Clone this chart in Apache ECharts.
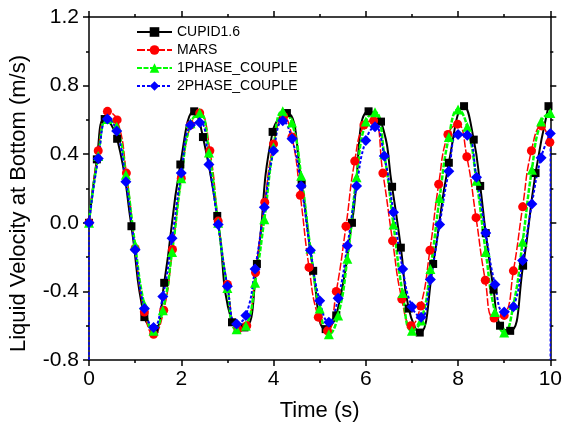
<!DOCTYPE html>
<html>
<head>
<meta charset="utf-8">
<script src="https://cdn.jsdelivr.net/npm/echarts@6/dist/echarts.min.js"></script>
<style>
html,body{margin:0;padding:0;background:#fff;}
#c{width:565px;height:428px;}
</style>
</head>
<body>
<div id="c"></div>
<script>
// ---- data ----
var seriesNames = ['CUPID1.6', 'MARS', '1PHASE_COUPLE', '2PHASE_COUPLE'];
var xTicks = [0, 2, 4, 6, 8, 10];
var yTicks = [-0.8, -0.4, 0.0, 0.4, 0.8, 1.2];

var cupidT = [0, 0.17, 0.34, 0.61, 0.92, 1.2, 1.42, 1.63, 1.98, 2.28, 2.47, 2.78, 3.1, 3.37, 3.64, 3.98, 4.29, 4.61, 4.86, 5.13, 5.36, 5.7, 6.06, 6.33, 6.57, 6.76, 6.93, 7.17, 7.46, 7.8, 8.13, 8.34, 8.48, 8.6, 8.77, 8.91, 9.13, 9.41, 9.68, 9.96];
var cupidV = [0.0, 0.37, 0.605, 0.49, -0.02, -0.55, -0.62, -0.35, 0.34, 0.65, 0.50, 0.04, -0.58, -0.61, -0.24, 0.53, 0.64, 0.225, -0.28, -0.62, -0.54, 0.0, 0.65, 0.59, 0.21, -0.145, -0.5, -0.64, -0.24, 0.35, 0.68, 0.485, 0.215, -0.06, -0.39, -0.60, -0.63, -0.25, 0.29, 0.68];

var marsT = [0, 0.2, 0.4, 0.61, 0.81, 1.0, 1.2, 1.4, 1.62, 1.81, 2.0, 2.2, 2.4, 2.62, 2.8, 3.0, 3.23, 3.42, 3.61, 3.81, 4.0, 4.22, 4.4, 4.58, 4.77, 4.97, 5.17, 5.36, 5.57, 5.76, 5.96, 6.17, 6.37, 6.58, 6.78, 6.98, 7.19, 7.39, 7.58, 7.78, 7.99, 8.19, 8.39, 8.59, 8.78, 9.0, 9.2, 9.4, 9.59, 9.81, 9.99];
var marsV = [0.0, 0.42, 0.65, 0.60, 0.29, -0.15, -0.52, -0.65, -0.51, -0.155, 0.26, 0.57, 0.64, 0.42, 0.01, -0.36, -0.62, -0.60, -0.29, 0.12, 0.46, 0.62, 0.50, 0.16, -0.26, -0.55, -0.63, -0.40, -0.02, 0.36, 0.57, 0.595, 0.29, -0.105, -0.445, -0.60, -0.485, -0.16, 0.225, 0.515, 0.575, 0.385, 0.03, -0.335, -0.555, -0.54, -0.28, 0.093, 0.42, 0.565, 0.47];

var coupleT = [0, 0.2, 0.4, 0.6, 0.8, 1.0, 1.2, 1.4, 1.6, 1.8, 2.0, 2.2, 2.4, 2.6, 2.8, 3.0, 3.2, 3.4, 3.6, 3.8, 4.0, 4.2, 4.4, 4.6, 4.8, 5.0, 5.2, 5.4, 5.6, 5.8, 6.0, 6.2, 6.4, 6.6, 6.8, 7.0, 7.2, 7.4, 7.6, 7.8, 8.0, 8.2, 8.4, 8.6, 8.8, 9.0, 9.2, 9.4, 9.6, 9.8, 10.0];
var phase1V = [0.0, 0.39, 0.605, 0.56, 0.28, -0.13, -0.48, -0.63, -0.51, -0.17, 0.26, 0.58, 0.64, 0.41, 0.0, -0.38, -0.62, -0.60, -0.35, 0.02, 0.44, 0.65, 0.585, 0.275, -0.15, -0.50, -0.65, -0.54, -0.21, 0.265, 0.59, 0.645, 0.40, -0.01, -0.41, -0.63, -0.57, -0.27, 0.145, 0.50, 0.66, 0.56, 0.245, -0.17, -0.52, -0.64, -0.48, -0.11, 0.31, 0.59, 0.64];
var phase2V = [0.0, 0.375, 0.605, 0.536, 0.24, -0.157, -0.50, -0.61, -0.43, -0.09, 0.29, 0.57, 0.585, 0.34, -0.01, -0.37, -0.59, -0.54, -0.27, 0.09, 0.42, 0.595, 0.49, 0.215, -0.16, -0.455, -0.58, -0.44, -0.134, 0.215, 0.48, 0.56, 0.39, 0.062, -0.27, -0.49, -0.55, -0.33, -0.01, 0.30, 0.515, 0.51, 0.265, -0.06, -0.36, -0.52, -0.49, -0.22, 0.11, 0.38, 0.52];
// vertical segments of the 2PHASE trace at both ends of the run
var phase2StartEdge = [[0, -0.8], [0, 0.0]];
var phase2EndEdge = [[10, 0.52], [10, -0.8]];

// ---- chart ----
function pairs(t, v) { return t.map(function (x, i) { return [x, v[i]]; }); }
var FONT = "'Liberation Sans', Arial, sans-serif";
var chart = echarts.init(document.getElementById('c'), null, {renderer: 'canvas'});

function xAx(pos, show) {
  return {
    type: 'value', position: pos, min: xTicks[0], max: xTicks[xTicks.length - 1],
    interval: xTicks[1] - xTicks[0],
    axisLine: {show: true, onZero: false, lineStyle: {color: '#000', width: 1.5}},
    axisTick: {show: true, inside: false, length: 6, lineStyle: {color: '#000', width: 1.5}},
    minorTick: {show: true, splitNumber: 2, length: 3, lineStyle: {color: '#000', width: 1.5}},
    splitLine: {show: false},
    axisLabel: {show: show, color: '#000', fontSize: 21, fontFamily: FONT, margin: 9},
    name: show ? 'Time (s)' : '', nameLocation: 'middle', nameGap: 40,
    nameTextStyle: {color: '#000', fontSize: 22, fontFamily: FONT}
  };
}
function yAx(pos, show) {
  return {
    type: 'value', position: pos, min: yTicks[0], max: yTicks[yTicks.length - 1],
    interval: 0.4,
    axisLine: {show: true, onZero: false, lineStyle: {color: '#000', width: 1.5}},
    axisTick: {show: true, inside: false, length: 6, lineStyle: {color: '#000', width: 1.5}},
    minorTick: {show: true, splitNumber: 2, length: 3, lineStyle: {color: '#000', width: 1.5}},
    splitLine: {show: false},
    axisLabel: {show: show, color: '#000', fontSize: 21, fontFamily: FONT, margin: 10,
      formatter: function (v) { return (Math.abs(v) < 1e-9 ? 0 : v).toFixed(1); }},
    name: show ? 'Liquid Velocity at Bottom (m/s)' : '', nameLocation: 'middle', nameGap: 59,
    nameTextStyle: {color: '#000', fontSize: 22, fontFamily: FONT, padding: [0, 30, 0, 0]}
  };
}

var option = {
  animation: false,
  backgroundColor: '#fff',
  grid: {left: 89, right: 11, top: 17, bottom: 68, containLabel: false},
  xAxis: [xAx('bottom', true), xAx('top', false)],
  yAxis: [yAx('left', true), yAx('right', false)],
  legend: {
    data: seriesNames, orient: 'vertical', left: 136, top: 25, padding: 0,
    itemWidth: 35, itemHeight: 12, itemGap: 4,
    textStyle: {color: '#000', fontSize: 14, fontFamily: FONT}
  },
  series: [
    {name: seriesNames[0], type: 'line', smooth: 0.5, data: pairs(cupidT, cupidV),
      symbol: 'rect', symbolSize: 8, itemStyle: {color: '#000'},
      lineStyle: {color: '#000', width: 2}},
    {name: seriesNames[1], type: 'line', smooth: 0.5, data: pairs(marsT, marsV),
      symbol: 'circle', symbolSize: 9, itemStyle: {color: '#ff0000'},
      lineStyle: {color: '#ff0000', width: 1.5, type: [8, 2]}},
    {name: seriesNames[2], type: 'line', smooth: 0.5, data: pairs(coupleT, phase1V),
      symbol: 'triangle', symbolSize: 10, itemStyle: {color: '#00ff00'},
      lineStyle: {color: '#00ff00', width: 2.5, type: [5, 1.5]}},
    {name: seriesNames[3], type: 'line', smooth: 0.5, data: pairs(coupleT, phase2V),
      symbol: 'diamond', symbolSize: 11, itemStyle: {color: '#0000ff'},
      lineStyle: {color: '#0000ff', width: 2, type: [3, 2]}},
    {type: 'line', data: phase2StartEdge, symbol: 'none', silent: true,
      lineStyle: {color: '#0000ff', width: 1.5, type: [3, 2]}},
    {type: 'line', data: phase2EndEdge, symbol: 'none', silent: true,
      lineStyle: {color: '#0000ff', width: 1.5, type: [3, 2]}}
  ]
};
chart.setOption(option);
</script>
</body>
</html>
